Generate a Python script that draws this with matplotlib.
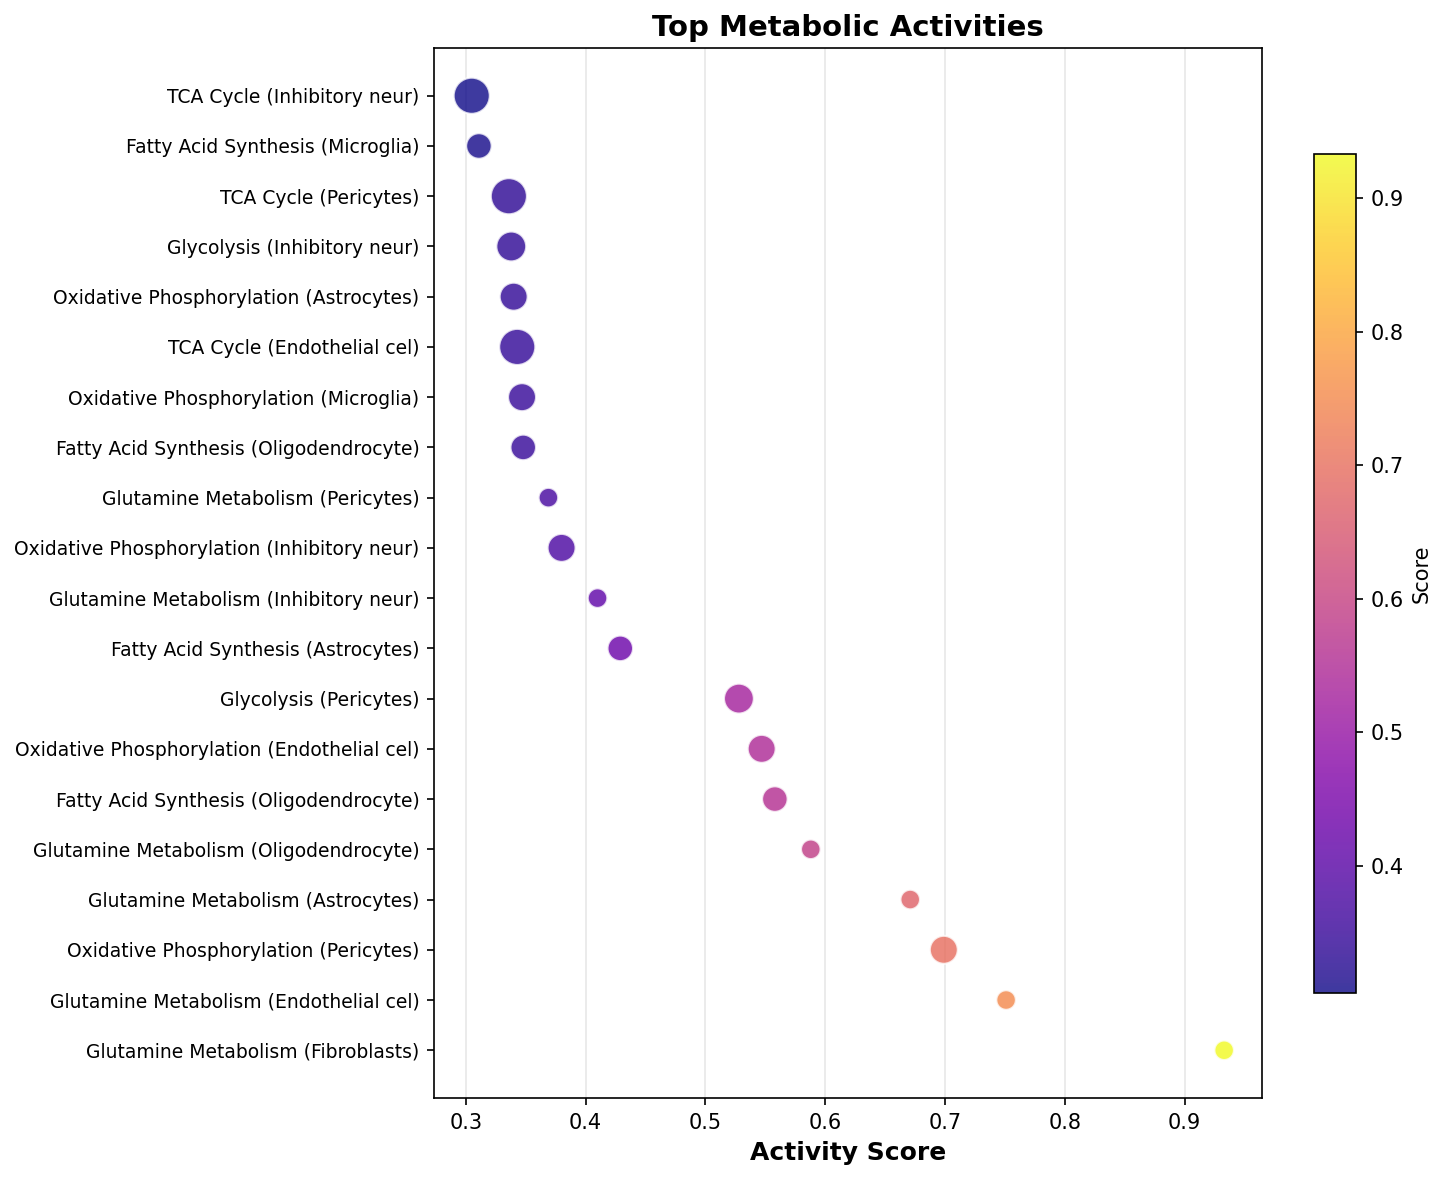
import matplotlib
matplotlib.use("Agg")
import matplotlib.pyplot as plt

# pathways and cell types, listed top to bottom as in the chart
pathways = ["TCA Cycle", "Fatty Acid Synthesis", "TCA Cycle", "Glycolysis",
            "Oxidative Phosphorylation", "TCA Cycle", "Oxidative Phosphorylation",
            "Fatty Acid Synthesis", "Glutamine Metabolism", "Oxidative Phosphorylation",
            "Glutamine Metabolism", "Fatty Acid Synthesis", "Glycolysis",
            "Oxidative Phosphorylation", "Fatty Acid Synthesis", "Glutamine Metabolism",
            "Glutamine Metabolism", "Oxidative Phosphorylation", "Glutamine Metabolism",
            "Glutamine Metabolism"]
cell_types = ["Inhibitory neur", "Microglia", "Pericytes", "Inhibitory neur",
              "Astrocytes", "Endothelial cel", "Microglia", "Oligodendrocyte",
              "Pericytes", "Inhibitory neur", "Inhibitory neur", "Astrocytes",
              "Pericytes", "Endothelial cel", "Oligodendrocyte", "Oligodendrocyte",
              "Astrocytes", "Pericytes", "Endothelial cel", "Fibroblasts"]
scores = [0.305, 0.311, 0.336, 0.338, 0.340, 0.343, 0.347, 0.348, 0.369, 0.380,
          0.410, 0.429, 0.528, 0.547, 0.558, 0.588, 0.671, 0.699, 0.751, 0.933]

# marker size per pathway
pathway_size = {"TCA Cycle": 300, "Glycolysis": 205, "Oxidative Phosphorylation": 180,
                "Fatty Acid Synthesis": 150, "Glutamine Metabolism": 88}

labels = [f"{p} ({c})" for p, c in zip(pathways, cell_types)]
sizes = [pathway_size[p] for p in pathways]
ypos = list(range(len(labels)))[::-1]

fig = plt.figure(figsize=(1447 / 150, 1180 / 150), dpi=150)
ax = fig.add_axes([0.300, 0.0695, 0.572, 0.8898])
cax = fig.add_axes([0.908, 0.1585, 0.029, 0.711])

sc = ax.scatter(scores, ypos, s=sizes, c=scores, cmap="plasma", alpha=0.8,
                edgecolors="white", linewidths=1, zorder=3)
ax.set_yticks(ypos)
ax.set_yticklabels(labels, fontsize=9)
ax.set_xlabel("Activity Score", fontsize=12, fontweight="bold")
ax.set_title("Top Metabolic Activities", fontsize=14, fontweight="bold")
ax.grid(axis="x", alpha=0.3)
ax.set_axisbelow(True)

cb = fig.colorbar(sc, cax=cax)
cb.set_label("Score")

fig.savefig("out.png", dpi=150)
